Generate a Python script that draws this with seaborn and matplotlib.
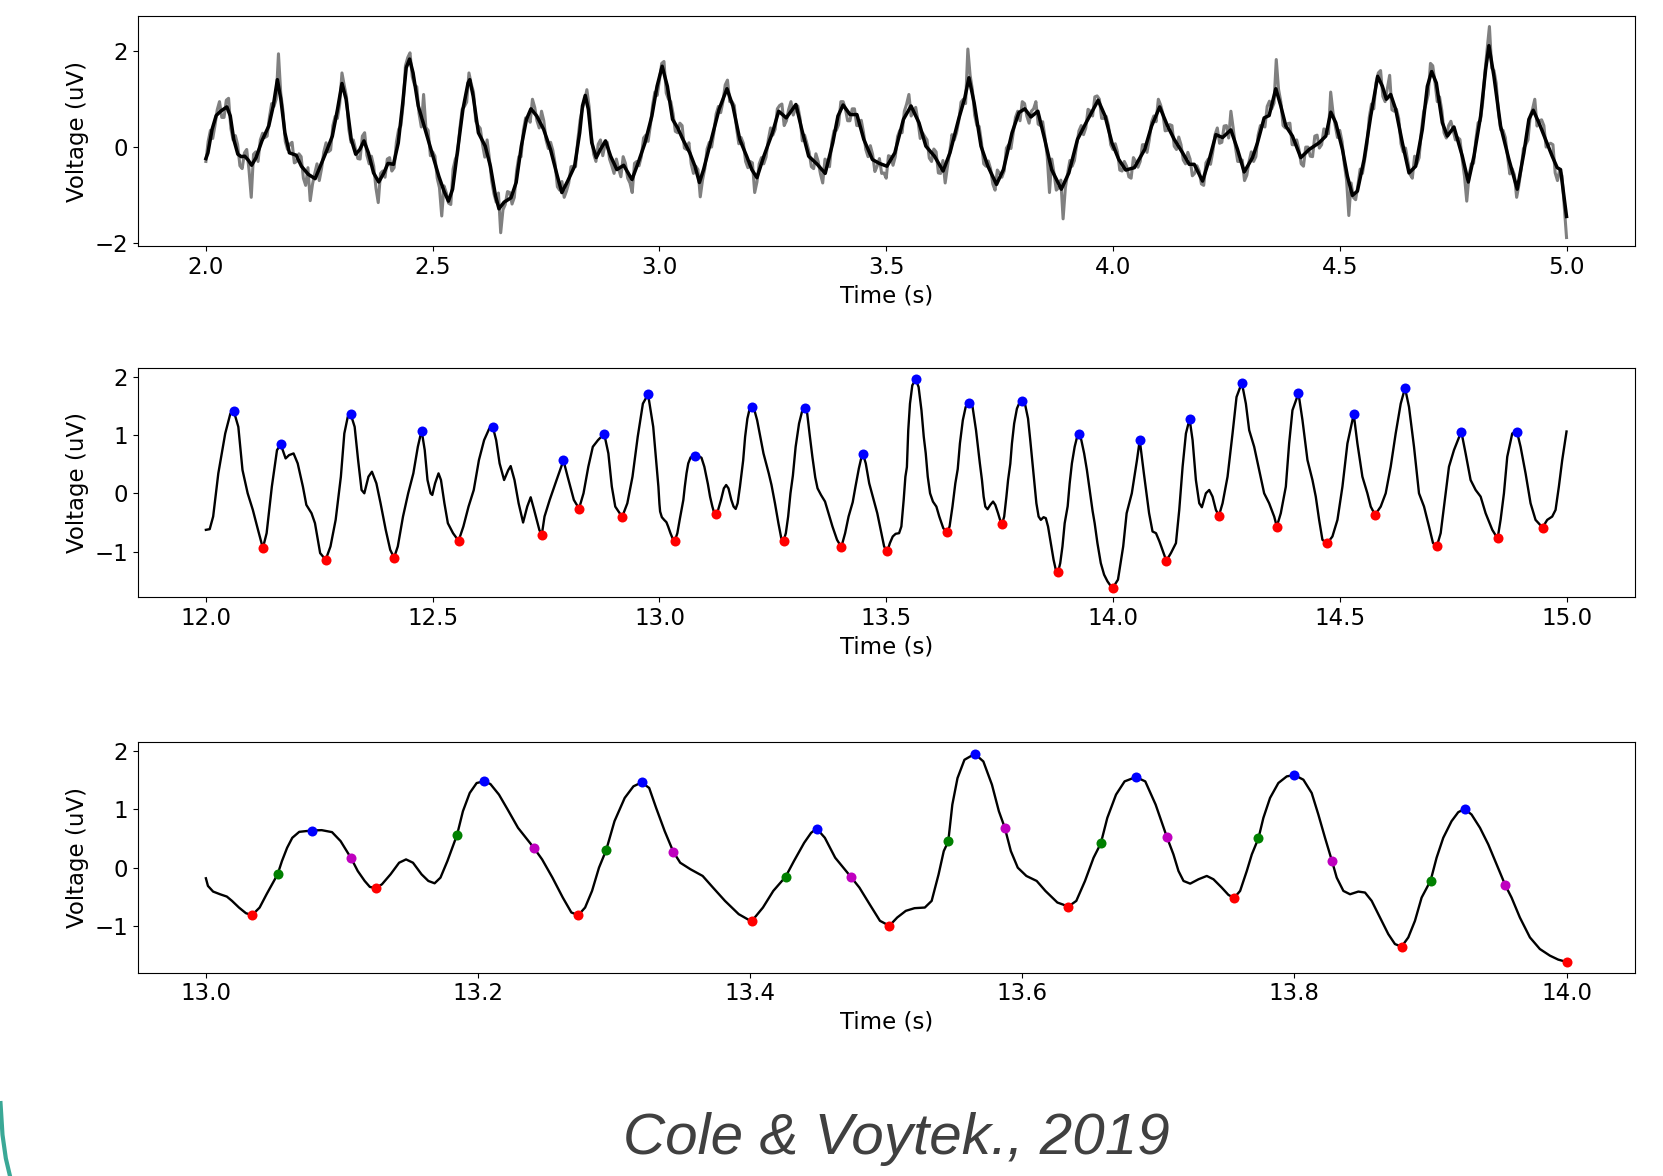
import numpy as np
import matplotlib
matplotlib.use("Agg")
import matplotlib.pyplot as plt
import seaborn as sns
from matplotlib.lines import Line2D

# ---- top panel: filtered trace (black) ----
t_filt = [2.000, 2.0045, 2.0136, 2.0227, 2.0326, 2.0462, 2.0538, 2.0614, 2.0705, 2.078,
          2.0856, 2.0932, 2.1008, 2.1106, 2.1235, 2.1386, 2.1485, 2.1576, 2.1652, 2.1742,
          2.1841, 2.1992, 2.2106, 2.2258, 2.2409, 2.2523, 2.2674, 2.2788, 2.2902, 2.300,
          2.3091, 2.3205, 2.3303, 2.3394, 2.3485, 2.3583, 2.3697, 2.3811, 2.3924, 2.4015,
          2.4136, 2.4242, 2.4341, 2.4417, 2.4492, 2.4568, 2.4682, 2.4833, 2.4985, 2.5136,
          2.525, 2.5348, 2.5439, 2.5553, 2.5667, 2.578, 2.5818, 2.5894, 2.6008, 2.6159,
          2.6273, 2.6386, 2.6462, 2.6576, 2.6727, 2.6841, 2.6955, 2.7068, 2.7167, 2.7295,
          2.7447, 2.7598, 2.775, 2.7848, 2.7977, 2.8129, 2.8242, 2.8303, 2.8364, 2.8432,
          2.8508, 2.8606, 2.8697, 2.8811, 2.8924, 2.9061, 2.9212, 2.9394, 2.953, 2.9682,
          2.9833, 2.9947, 3.006, 3.0175, 3.0289, 3.0403, 3.0517, 3.0669, 3.0783, 3.0881,
          3.0973, 3.1125, 3.1315, 3.1489, 3.1619, 3.1771, 3.1923, 3.2036, 3.215, 3.2302,
          3.2492, 3.2629, 3.2796, 3.3009, 3.3138, 3.329, 3.348, 3.3655, 3.3822, 3.3936,
          3.405, 3.4202, 3.4354, 3.4506, 3.4696, 3.4848, 3.5015, 3.519, 3.538, 3.5547,
          3.5722, 3.5874, 3.6064, 3.6254, 3.6406, 3.6596, 3.6733, 3.6824, 3.6938, 3.709,
          3.7242, 3.7432, 3.7584, 3.7774, 3.7926, 3.8055, 3.8191, 3.8343, 3.8495, 3.8647,
          3.886, 3.9027, 3.9217, 3.9407, 3.9673, 3.9825, 3.9977, 4.0129, 4.0281, 4.0471,
          4.0699, 4.0851, 4.103, 4.1204, 4.1351, 4.1535, 4.1681, 4.1791, 4.1975, 4.2122,
          4.2269, 4.2416, 4.2599, 4.2746, 4.2893, 4.3076, 4.3186, 4.3333, 4.3443, 4.359,
          4.37, 4.3811, 4.3957, 4.4141, 4.4325, 4.4545, 4.4692, 4.4802, 4.4912, 4.5059,
          4.5169, 4.5279, 4.5389, 4.5536, 4.5683, 4.5837, 4.594, 4.6028, 4.6123, 4.6233,
          4.638, 4.6527, 4.6674, 4.6821, 4.6931, 4.7026, 4.7129, 4.7261, 4.7372, 4.7518,
          4.7702, 4.7834, 4.7959, 4.8106, 4.8216, 4.8289, 4.8399, 4.8546, 4.873, 4.8913,
          4.906, 4.917, 4.9266, 4.9391, 4.9537, 4.9684, 4.9794, 4.9868, 5.000]
v_filt = [-0.24, -0.12, 0.37, 0.66, 0.75, 0.84, 0.65, 0.16, -0.15, -0.20,
          -0.19, -0.27, -0.38, -0.22, 0.13, 0.44, 0.86, 1.41, 1.00, 0.30,
          -0.12, -0.17, -0.40, -0.57, -0.66, -0.40, -0.05, 0.23, 0.79, 1.33,
          1.00, 0.16, -0.15, -0.05, 0.13, -0.12, -0.54, -0.73, -0.54, -0.34,
          -0.36, 0.09, 0.93, 1.66, 1.84, 1.55, 0.86, 0.37, -0.12, -0.61,
          -0.92, -1.13, -0.88, -0.05, 0.79, 1.34, 1.41, 1.06, 0.30, 0.02,
          -0.40, -1.02, -1.29, -1.15, -1.06, -0.74, 0.02, 0.58, 0.80, 0.65,
          0.37, -0.05, -0.61, -0.95, -0.71, -0.40, 0.30, 0.86, 1.08, 0.79,
          0.09, -0.22, -0.05, 0.13, -0.19, -0.47, -0.38, -0.68, -0.33, 0.09,
          0.65, 1.27, 1.69, 1.27, 0.58, 0.40, 0.16, -0.12, -0.40, -0.74,
          -0.47, 0.09, 0.79, 1.22, 0.86, 0.16, -0.19, -0.47, -0.64, -0.19,
          0.30, 0.75, 0.61, 0.89, 0.37, -0.19, -0.36, -0.55, 0.09, 0.65,
          0.88, 0.68, 0.68, 0.16, -0.26, -0.34, -0.40, -0.12, 0.58, 0.86,
          0.51, 0.02, -0.19, -0.50, -0.12, 0.58, 1.03, 1.45, 0.93, 0.02,
          -0.40, -0.78, -0.47, 0.30, 0.72, 0.80, 0.63, 0.75, 0.16, -0.47,
          -0.88, -0.54, 0.16, 0.51, 0.98, 0.65, 0.09, -0.26, -0.48, -0.43,
          -0.05, 0.44, 0.84, 0.44, 0.16, -0.12, -0.36, -0.36, -0.71, -0.26,
          0.26, 0.20, 0.36, -0.05, -0.52, -0.22, 0.09, 0.61, 0.66, 1.22,
          0.86, 0.44, 0.23, -0.22, -0.05, 0.09, 0.23, 0.73, 0.51, -0.05,
          -0.61, -1.01, -0.92, -0.26, 0.65, 1.48, 1.27, 1.00, 1.10, 0.79,
          0.09, -0.54, -0.40, 0.37, 1.27, 1.58, 1.34, 0.51, 0.23, 0.42,
          -0.19, -0.73, -0.19, 0.65, 1.62, 2.12, 1.48, 0.44, -0.26, -0.88,
          -0.12, 0.58, 0.77, 0.51, 0.16, -0.19, -0.43, -0.47, -1.45]

# ---- top panel: raw trace (grey), sampled every 10 ms from 2.000 s to 5.000 s ----
v_raw = [-0.30, 0.35, 0.45, 0.95, 0.62, 1.02, 0.15, 0.05, -0.45, -0.05,
         -1.05, -0.10, 0.15, 0.20, 0.62, 0.85, 1.95, 0.75, -0.05, 0.10,
         -0.30, -0.20, -0.80, -1.12, -0.55, -0.70, -0.10, -0.10, 0.45, 0.60,
         1.55, 1.05, 0.10, -0.05, -0.25, 0.30, -0.35, -0.40, -1.16, -0.50,
         -0.25, -0.50, 0.10, 0.45, 1.70, 1.97, 1.30, 0.70, 1.10, 0.35,
         -0.10, -0.65, -1.44, -0.95, -1.20, -0.25, 0.40, 0.85, 1.55, 1.15,
         0.45, 0.05, 0.15, -0.70, -1.15, -1.79, -1.20, -0.95, -1.05, -0.20,
         0.35, 0.60, 1.00, 0.55, 0.75, 0.15, 0.10, -0.35, -0.90, -1.05,
         -0.75, -0.40, 0.15, 0.80, 1.20, 0.25, -0.30, 0.15, 0.05, -0.25,
         -0.55, -0.45, -0.20, -0.65, -0.95, -0.30, -0.20, 0.25, 0.45, 1.15,
         1.40, 1.79, 1.00, 0.70, 0.30, 0.45, -0.05, -0.35, -0.40, -1.04,
         -0.45, 0.10, 0.30, 0.85, 0.95, 1.40, 0.95, 0.40, 0.20, -0.30,
         -0.30, -0.95, -0.35, -0.35, 0.15, 0.25, 0.80, 0.90, 0.55, 0.95,
         0.80, 0.60, 0.25, -0.10, -0.45, -0.30, -0.75, -0.30, 0.10, 0.35,
         0.95, 0.80, 0.55, 0.80, 0.45, 0.30, -0.20, -0.15, -0.40, -0.55,
         -0.65, -0.20, -0.20, 0.35, 0.75, 1.10, 0.75, 0.55, 0.30, 0.15,
         -0.30, -0.10, -0.55, -0.75, -0.10, 0.15, 0.55, 1.00, 2.05, 1.20,
         0.45, 0.10, -0.40, -0.45, -0.90, -0.55, -0.50, 0.05, 0.30, 0.75,
         0.95, 0.65, 0.75, 0.95, 0.45, 0.20, -0.95, -0.55, -0.85, -1.50,
         -0.55, -0.40, 0.05, 0.45, 0.40, 0.75, 1.05, 1.00, 0.60, 0.45,
         -0.05, -0.10, -0.50, -0.40, -0.65, -0.30, -0.30, 0.05, 0.15, 0.65,
         1.00, 0.70, 0.35, 0.45, -0.05, 0.05, -0.35, -0.25, -0.55, -0.50,
         -0.80, -0.25, -0.10, 0.40, 0.10, 0.45, 0.75, 0.00, -0.30, -0.70,
         -0.30, -0.30, 0.25, 0.45, 0.85, 0.80, 1.83, 0.95, 0.40, 0.50,
         0.05, -0.05, -0.40, 0.00, -0.20, 0.25, 0.05, 0.35, 1.15, 0.45,
         0.35, -0.35, -1.43, -1.05, -0.80, -0.55, 0.05, 0.90, 1.35, 1.60,
         0.95, 1.50, 0.75, 0.60, -0.10, -0.30, -0.65, -0.35, 0.35, 0.90,
         1.75, 1.35, 1.05, 0.30, 0.45, 0.35, 0.20, -0.25, -1.13, -0.35,
         0.15, 0.55, 1.55, 2.52, 1.60, 0.70, 0.35, -0.20, -0.45, -1.05,
         -0.45, 0.05, 0.65, 1.00, 0.55, 0.45, 0.05, 0.05, -0.70, -0.60,
         -1.89]
# raw trace in between, at 2.005 s, 2.015 s, ... 4.995 s
v_raw_mid = [0.12, 0.18, 0.78, 0.62, 0.98, 0.39, 0.24, -0.39, -0.12, -0.47,
             -0.15, -0.30, 0.29, 0.23, 0.91, 1.00, 1.13, 0.12, 0.06, -0.33,
             -0.14, -0.65, -0.43, -0.78, -0.35, -0.45, 0.09, -0.06, 0.64, 0.90,
             1.29, 0.38, 0.15, -0.24, 0.23, -0.17, -0.19, -0.86, -0.55, -0.63,
             -0.22, -0.43, 0.37, 0.90, 1.87, 1.47, 1.26, 0.42, 0.41, -0.18,
             -0.19, -0.85, -0.81, -1.17, -0.46, -0.14, 0.79, 0.94, 1.32, 0.54,
             0.39, -0.21, -0.23, -0.97, -0.96, -1.31, -0.93, -1.19, -0.50, -0.20,
             0.61, 0.52, 0.83, 0.40, 0.55, -0.03, -0.07, -0.83, -0.72, -0.92,
             -0.41, -0.41, 0.56, 0.95, 0.84, -0.15, 0.06, -0.18, 0.10, -0.39,
             -0.25, -0.62, -0.34, -0.75, -0.34, -0.39, 0.19, 0.12, 0.88, 1.08,
             1.75, 1.13, 0.95, 0.33, 0.50, -0.02, 0.09, -0.55, -0.47, -0.69,
             -0.04, 0.00, 0.69, 0.72, 1.30, 0.95, 0.87, 0.07, 0.08, -0.43,
             -0.33, -0.73, -0.22, -0.21, 0.40, 0.37, 0.87, 0.45, 0.79, 0.67,
             0.86, 0.13, 0.08, -0.41, -0.14, -0.56, -0.25, -0.41, 0.34, 0.47,
             0.95, 0.55, 0.80, 0.45, 0.56, -0.05, 0.03, -0.51, -0.24, -0.54,
             -0.18, -0.38, 0.22, 0.30, 0.90, 0.65, 0.83, 0.18, 0.22, -0.23,
             -0.04, -0.54, -0.28, -0.41, 0.26, 0.30, 0.94, 0.91, 1.50, 0.67,
             0.43, -0.35, -0.29, -0.77, -0.48, -0.63, -0.02, -0.03, 0.62, 0.55,
             0.91, 0.50, 0.80, 0.48, 0.53, -0.20, -0.25, -0.90, -0.69, -0.85,
             -0.28, -0.28, 0.34, 0.26, 0.79, 0.65, 1.07, 0.60, 0.64, 0.05,
             0.07, -0.48, -0.30, -0.62, -0.22, -0.42, 0.05, -0.11, 0.52, 0.53,
             0.88, 0.34, 0.47, 0.02, 0.21, -0.27, -0.11, -0.60, -0.39, -0.77,
             -0.33, -0.36, 0.26, 0.08, 0.44, 0.19, 0.40, -0.30, -0.27, -0.59,
             -0.10, -0.20, 0.45, 0.42, 0.96, 0.92, 1.21, 0.45, 0.49, 0.05,
             0.15, -0.35, 0.00, -0.19, 0.23, -0.02, 0.38, 0.28, 0.73, 0.20,
             0.12, -0.69, -0.75, -1.10, -0.46, -0.26, 0.62, 0.80, 1.55, 1.06,
             1.23, 0.78, 0.79, 0.07, -0.02, -0.57, -0.19, -0.22, 0.74, 1.10,
             1.70, 0.95, 0.77, 0.19, 0.54, 0.15, 0.16, -0.61, -0.60, -0.34,
             0.51, 0.92, 2.05, 1.65, 1.33, 0.36, 0.20, -0.56, -0.58, -0.79,
             -0.03, 0.15, 0.79, 0.44, 0.57, 0.00, 0.08, -0.54, -0.47, -1.24]

# ---- middle and bottom panels: lowpassed trace 12 - 15 s ----
t_lp = [12.0000, 12.0084, 12.0160, 12.0274, 12.0426, 12.0540, 12.0616, 12.0715, 12.0807, 12.0921,
        12.1035, 12.1149, 12.1256, 12.1339, 12.1454, 12.1568, 12.1651, 12.1758, 12.1834, 12.1933,
        12.2024, 12.2139, 12.2215, 12.2329, 12.2405, 12.2519, 12.2641, 12.2747, 12.2861, 12.2976,
        12.3052, 12.3128, 12.3189, 12.3280, 12.3356, 12.3432, 12.3493, 12.3584, 12.3661, 12.3759,
        12.3851, 12.3965, 12.4064, 12.4148, 12.4231, 12.4346, 12.4460, 12.4574, 12.4673, 12.4756,
        12.4825, 12.4886, 12.4954, 12.4992, 12.5053, 12.5129, 12.5183, 12.5259, 12.5335, 12.5449,
        12.5571, 12.5677, 12.5791, 12.5906, 12.6020, 12.6134, 12.6248, 12.6324, 12.6400, 12.6476,
        12.6575, 12.6667, 12.6720, 12.6804, 12.6895, 12.6994, 12.7085, 12.7161, 12.7237, 12.7352,
        12.7405, 12.7466, 12.7580, 12.7732, 12.7884, 12.7976, 12.8113, 12.8227, 12.8326, 12.8432,
        12.8531, 12.8645, 12.8782, 12.8874, 12.8950, 12.9026, 12.9178, 12.9292, 12.9406, 12.9521,
        12.9635, 12.9749, 12.9863, 12.9977,
        13.0000, 13.0015, 13.0053, 13.0104, 13.0154, 13.0192, 13.0243, 13.0294, 13.0339, 13.0395,
        13.0446, 13.0527, 13.0559, 13.0597, 13.0635, 13.0686, 13.0777, 13.0851, 13.0927, 13.0990,
        13.1068, 13.1116, 13.1167, 13.1205, 13.1248, 13.1294, 13.1357, 13.1420, 13.1471, 13.1522,
        13.1585, 13.1635, 13.1681, 13.1724, 13.1775, 13.1846, 13.1889, 13.1939, 13.1990, 13.2041,
        13.2091, 13.2154, 13.2218, 13.2294, 13.2410, 13.2471, 13.2547, 13.2623, 13.2686, 13.2737,
        13.2787, 13.2838, 13.2889, 13.2942, 13.3003, 13.3078, 13.3142, 13.3203, 13.3258, 13.3309,
        13.3372, 13.3435, 13.3486, 13.3562, 13.3651, 13.3727, 13.3815, 13.3916, 13.4010, 13.4094,
        13.4170, 13.4261, 13.4322, 13.4397, 13.4448, 13.4489, 13.4549, 13.4625, 13.4739, 13.4803,
        13.4878, 13.4954, 13.5023, 13.5081, 13.5144, 13.5208, 13.5284, 13.5334, 13.5385, 13.5423,
        13.5456, 13.5486, 13.5524, 13.5575, 13.5651, 13.5714, 13.5777, 13.5828, 13.5871, 13.5916,
        13.5967, 13.6030, 13.6106, 13.6170, 13.6258, 13.6339, 13.6397, 13.6461, 13.6524, 13.6577,
        13.6625, 13.6689, 13.6752, 13.6835, 13.6904, 13.6980, 13.7063, 13.7111, 13.7148, 13.7185,
        13.7234, 13.7295, 13.7356, 13.7405, 13.7466, 13.7515, 13.7557, 13.7601, 13.7650, 13.7687,
        13.7736, 13.7772, 13.7821, 13.7882, 13.7944, 13.8000, 13.8066, 13.8127, 13.8176, 13.8225,
        13.8277, 13.8311, 13.8360, 13.8409, 13.8470, 13.8519, 13.8568, 13.8629, 13.8690, 13.8739,
        13.8788, 13.8837, 13.8886, 13.8935, 13.9001, 13.9045, 13.9094, 13.9155, 13.9204, 13.9251,
        13.9302, 13.9364, 13.9425, 13.9486, 13.9550, 13.9596, 13.9657, 13.9731, 13.9804, 13.9878,
        13.9939, 14.0000,
        14.0110, 14.0225, 14.0301, 14.0415, 14.0529, 14.0590, 14.0681, 14.0796, 14.0872, 14.0948,
        14.1024, 14.1176, 14.1277, 14.1388, 14.1461, 14.1535, 14.1608, 14.1689, 14.1755, 14.1828,
        14.1902, 14.1960, 14.2048, 14.2122, 14.2195, 14.2269, 14.2335, 14.2416, 14.2526, 14.2636,
        14.2724, 14.2841, 14.2930, 14.3003, 14.3113, 14.3223, 14.3333, 14.3443, 14.3554, 14.3612,
        14.3700, 14.3811, 14.3884, 14.3957, 14.4090, 14.4178, 14.4288, 14.4398, 14.4471, 14.4545,
        14.4618, 14.4721, 14.4838, 14.4949, 14.5059, 14.5169, 14.5308, 14.5389, 14.5499, 14.5609,
        14.5683, 14.5778, 14.5903, 14.6013, 14.6123, 14.6233, 14.6344, 14.6439, 14.6527, 14.6637,
        14.6747, 14.6858, 14.6968, 14.7056, 14.7144, 14.7225, 14.7335, 14.7408, 14.7518, 14.7680,
        14.7775, 14.7885, 14.7996, 14.8106, 14.8216, 14.8363, 14.8480, 14.8546, 14.8620, 14.8693,
        14.8803, 14.8906, 14.8987, 14.9097, 14.9207, 14.9317, 14.9471, 14.9574, 14.9684, 14.9758,
        14.9831, 14.9905, 15.0000]
v_lp = [-0.627, -0.615, -0.399, 0.342, 1.026, 1.368, 1.407, 1.140, 0.399, 0.000,
        -0.285, -0.627, -0.940, -0.684, 0.114, 0.741, 0.838, 0.598, 0.655, 0.684,
        0.513, 0.114, -0.199, -0.342, -0.513, -1.026, -1.140, -0.912, -0.456, 0.285,
        1.026, 1.311, 1.368, 1.140, 0.570, 0.057, 0.000, 0.285, 0.370, 0.171,
        -0.171, -0.627, -0.969, -1.105, -0.912, -0.399, 0.000, 0.342, 0.798, 1.077,
        0.741, 0.228, 0.000, -0.028, 0.171, 0.342, 0.228, -0.171, -0.513, -0.684,
        -0.815, -0.570, -0.228, 0.057, 0.570, 0.912, 1.111, 1.145, 0.912, 0.513,
        0.228, 0.399, 0.467, 0.228, -0.171, -0.501, -0.228, -0.068, -0.285, -0.627,
        -0.718, -0.399, -0.114, 0.228, 0.564, 0.285, -0.114, -0.262, 0.000, 0.456,
        0.798, 0.912, 1.020, 0.684, 0.114, -0.228, -0.405, -0.171, 0.285, 0.969,
        1.538, 1.698, 1.140, 0.114,
        -0.182, -0.313, -0.410, -0.456, -0.496, -0.570, -0.684, -0.781, -0.815, -0.684,
        -0.456, -0.114, 0.114, 0.342, 0.513, 0.615, 0.638, 0.644, 0.610, 0.456,
        0.160, -0.057, -0.228, -0.330, -0.353, -0.285, -0.114, 0.085, 0.142, 0.085,
        -0.114, -0.228, -0.268, -0.171, 0.114, 0.564, 0.969, 1.282, 1.453, 1.481,
        1.436, 1.254, 0.997, 0.684, 0.342, 0.142, -0.171, -0.513, -0.769, -0.815,
        -0.684, -0.399, 0.000, 0.302, 0.798, 1.197, 1.396, 1.464, 1.368, 1.026,
        0.627, 0.274, 0.085, -0.028, -0.142, -0.342, -0.570, -0.798, -0.923, -0.684,
        -0.399, -0.154, 0.114, 0.427, 0.598, 0.672, 0.513, 0.171, -0.154, -0.342,
        -0.627, -0.912, -0.997, -0.855, -0.741, -0.695, -0.684, -0.570, -0.114, 0.285,
        0.450, 1.083, 1.538, 1.852, 1.954, 1.823, 1.425, 0.969, 0.689, 0.285,
        0.000, -0.142, -0.228, -0.399, -0.598, -0.667, -0.570, -0.228, 0.171, 0.416,
        0.855, 1.254, 1.481, 1.556, 1.481, 1.083, 0.524, 0.228, -0.057, -0.228,
        -0.274, -0.199, -0.142, -0.199, -0.342, -0.467, -0.519, -0.399, -0.057, 0.228,
        0.507, 0.855, 1.197, 1.453, 1.567, 1.590, 1.510, 1.282, 0.912, 0.513,
        0.108, -0.171, -0.399, -0.456, -0.410, -0.427, -0.570, -0.855, -1.140, -1.311,
        -1.356, -1.197, -0.912, -0.513, -0.222, 0.171, 0.513, 0.798, 0.952, 1.009,
        0.912, 0.684, 0.399, 0.057, -0.302, -0.513, -0.855, -1.197, -1.396, -1.510,
        -1.578, -1.618,
        -1.481, -0.912, -0.342, 0.000, 0.570, 0.912, 0.342, -0.342, -0.655, -0.684,
        -0.826, -1.157, -1.026, -0.855, -0.285, 0.456, 1.026, 1.276, 0.912, 0.228,
        -0.171, -0.239, 0.000, 0.057, -0.057, -0.285, -0.387, -0.171, 0.285, 1.026,
        1.652, 1.897, 1.538, 1.083, 0.798, 0.399, 0.000, -0.171, -0.399, -0.570,
        -0.342, 0.114, 0.855, 1.425, 1.715, 1.254, 0.570, 0.228, -0.057, -0.456,
        -0.798, -0.860, -0.741, -0.456, 0.114, 0.855, 1.356, 0.855, 0.285, 0.000,
        -0.228, -0.370, -0.228, 0.000, 0.456, 1.026, 1.538, 1.806, 1.481, 0.798,
        0.000, -0.228, -0.570, -0.855, -0.900, -0.684, 0.000, 0.456, 0.741, 1.060,
        0.684, 0.228, 0.057, -0.057, -0.342, -0.627, -0.775, -0.456, 0.000, 0.627,
        1.026, 1.060, 0.798, 0.342, -0.171, -0.456, -0.587, -0.456, -0.399, -0.285,
        0.114, 0.570, 1.060]

# cycle points (times in s)
peak_t = [12.0616, 12.1651, 12.3189, 12.4756, 12.6324, 12.7884, 12.8782, 12.9749,
          13.0777, 13.2041, 13.3203, 13.4489, 13.5651, 13.6835, 13.8000, 13.9251,
          14.0590, 14.1689, 14.2841, 14.4090, 14.5308, 14.6439, 14.7680, 14.8906]
trough_t = [12.1256, 12.2641, 12.4148, 12.5571, 12.7405, 12.8227, 12.9178, 13.0339,
            13.1248, 13.2737, 13.4010, 13.5023, 13.6339, 13.7557, 13.8788, 14.0000,
            14.1176, 14.2335, 14.3612, 14.4721, 14.5778, 14.7144, 14.8480, 14.9471]
rise_t = [13.0527, 13.1846, 13.2942, 13.4261, 13.5456, 13.6577, 13.7736, 13.9001]
decay_t = [13.1068, 13.2410, 13.3435, 13.4739, 13.5871, 13.7063, 13.8277, 13.9550]

plt.rcParams["font.size"] = 16.5

# merge the two raw sample sets into one time-ordered trace
t_raw = np.concatenate([np.linspace(2.0, 5.0, len(v_raw)),
                        np.linspace(2.005, 4.995, len(v_raw_mid))])
v_raw_all = np.concatenate([v_raw, v_raw_mid])
order = np.argsort(t_raw)
t_raw, v_raw_all = t_raw[order], v_raw_all[order]

t_lp = np.array(t_lp)
v_lp = np.array(v_lp)


def on_trace(times):
    idx = [int(np.abs(t_lp - t).argmin()) for t in times]
    return t_lp[idx], v_lp[idx]


fig, axes = plt.subplots(3, 1, figsize=(16.63, 11.76), dpi=100)
axes[0].set_position([0.0829, 0.7907, 0.900, 0.1957])
axes[1].set_position([0.0829, 0.4923, 0.900, 0.1948])
axes[2].set_position([0.0829, 0.1730, 0.900, 0.1957])

# top: raw + filtered
ax = axes[0]
sns.lineplot(x=t_raw, y=v_raw_all, ax=ax, color="grey", lw=2.2, estimator=None, sort=False)
sns.lineplot(x=t_filt, y=v_filt, ax=ax, color="k", lw=2.5, estimator=None, sort=False)
ax.set_xlim(1.85, 5.15)
ax.set_ylim(-2.07, 2.74)
ax.set_yticks([-2, 0, 2])

# middle: lowpassed with peaks/troughs
ax = axes[1]
sns.lineplot(x=t_lp, y=v_lp, ax=ax, color="k", lw=1.7, estimator=None, sort=False)
for times, col in [(peak_t, "b"), (trough_t, "r")]:
    x, y = on_trace(times)
    sns.scatterplot(x=x, y=y, ax=ax, color=col, s=52, linewidth=0, zorder=3)
ax.set_xlim(11.85, 15.15)
ax.set_ylim(-1.78, 2.15)
ax.set_yticks([-1, 0, 1, 2])

# bottom: one second, all four cycle points
ax = axes[2]
keep = (t_lp >= 13.0) & (t_lp <= 14.0)
sns.lineplot(x=t_lp[keep], y=v_lp[keep], ax=ax, color="k", lw=1.7, estimator=None, sort=False)
for times, col in [(peak_t, "b"), (trough_t, "r"), (rise_t, "g"), (decay_t, "m")]:
    times = [t for t in times if 13.0 <= t <= 14.0]
    x, y = on_trace(times)
    sns.scatterplot(x=x, y=y, ax=ax, color=col, s=52, linewidth=0, zorder=3)
ax.set_xlim(12.95, 14.05)
ax.set_ylim(-1.80, 2.15)
ax.set_yticks([-1, 0, 1, 2])

for ax in axes:
    ax.set_xlabel("Time (s)")
    ax.set_ylabel("Voltage (uV)")

fig.text(0.539, 0.019, "Cole & Voytek., 2019", ha="center", va="baseline",
         fontsize=42, style="italic", color="#404040", family="Liberation Sans")

# slide decoration at bottom-left corner
fig.add_artist(Line2D([0.0003, 0.0015, 0.0035, 0.006], [0.062, 0.035, 0.015, 0.0],
                      transform=fig.transFigure, color="#3aa896", lw=3))

fig.savefig("out.png", dpi=100)
